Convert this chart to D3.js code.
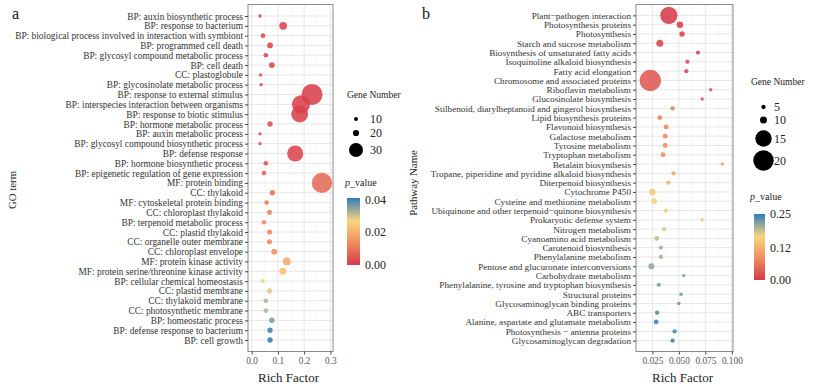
<!DOCTYPE html>
<html><head><meta charset="utf-8">
<script src="https://cdn.jsdelivr.net/npm/d3@7/dist/d3.min.js"></script>
<style>body{margin:0;background:#fff}svg{display:block}</style>
</head><body><svg id="c" width="830" height="392"></svg>
<script>
// ---------- Panel a : GO terms ----------
const goTerms = [
  "BP: auxin biosynthetic process","BP: response to bacterium","BP: biological process involved in interaction with symbiont",
  "BP: programmed cell death","BP: glycosyl compound metabolic process","BP: cell death","CC: plastoglobule",
  "BP: glycosinolate metabolic process","BP: response to external stimulus","BP: interspecies interaction between organisms",
  "BP: response to biotic stimulus","BP: hormone metabolic process","BP: auxin metabolic process",
  "BP: glycosyl compound biosynthetic process","BP: defense response","BP: hormone biosynthetic process",
  "BP: epigenetic regulation of gene expression","MF: protein binding","CC: thylakoid","MF: cytoskeletal protein binding",
  "CC: chloroplast thylakoid","BP: terpenoid metabolic process","CC: plastid thylakoid","CC: organelle outer membrane",
  "CC: chloroplast envelope","MF: protein kinase activity","MF: protein serine/threonine kinase activity",
  "BP: cellular chemical homeostasis","CC: plastid membrane","CC: thylakoid membrane","CC: photosynthetic membrane",
  "BP: homeostatic process","BP: defense response to bacterium","BP: cell growth"
];
const goRich = [0.032,0.120,0.043,0.070,0.054,0.077,0.034,0.036,0.230,0.188,0.183,0.070,0.032,0.032,0.166,0.054,0.047,
  0.268,0.079,0.057,0.068,0.047,0.068,0.068,0.086,0.134,0.119,0.042,0.068,0.054,0.054,0.077,0.070,0.070];
const goCount = [8,22,13,18,13,18,8,8,40,36,34,16,8,8,33,13,13,39,16,13,15,12,15,15,18,22,21,10,15,13,13,17,16,16];
const goP = [0.001,0.002,0.002,0.002,0.002,0.002,0.002,0.002,0.001,0.001,0.001,0.003,0.003,0.003,0.002,0.004,0.006,
  0.008,0.009,0.011,0.012,0.012,0.013,0.013,0.014,0.019,0.023,0.026,0.029,0.032,0.032,0.036,0.040,0.041];
const goXTicks = [0, 0.1, 0.2, 0.3];
const goSizeBreaks = [10, 20, 30];
const goPBreaks = [0, 0.02, 0.04];

// ---------- Panel b : KEGG pathways ----------
const pwNames = [
  "Plant\u2212pathogen interaction","Photosynthesis proteins","Photosynthesis","Starch and sucrose metabolism",
  "Biosynthesis of unsaturated fatty acids","Isoquinoline alkaloid biosynthesis","Fatty acid elongation",
  "Chromosome and associated proteins","Riboflavin metabolism","Glucosinolate biosynthesis",
  "Stilbenoid, diarylheptanoid and gingerol biosynthesis","Lipid biosynthesis proteins","Flavonoid biosynthesis",
  "Galactose metabolism","Tyrosine metabolism","Tryptophan metabolism","Betalain biosynthesis",
  "Tropane, piperidine and pyridine alkaloid biosynthesis","Diterpenoid biosynthesis","Cytochrome P450",
  "Cysteine and methionine metabolism","Ubiquinone and other terpenoid\u2212quinone biosynthesis","Prokaryotic defense system",
  "Nitrogen metabolism","Cyanoamino acid metabolism","Carotenoid biosynthesis","Phenylalanine metabolism",
  "Pentose and glucuronate interconversions","Carbohydrate metabolism","Phenylalanine, tyrosine and tryptophan biosynthesis",
  "Structural proteins","Glycosaminoglycan binding proteins","ABC transporters","Alanine, aspartate and glutamate metabolism",
  "Photosynthesis \u2212 antenna proteins","Glycosaminoglycan degradation"
];
const pwRich = [0.0405,0.051,0.053,0.032,0.068,0.058,0.057,0.023,0.080,0.072,0.044,0.032,0.038,0.037,0.037,0.035,0.091,
  0.045,0.040,0.025,0.0266,0.0376,0.072,0.036,0.029,0.033,0.033,0.024,0.0546,0.031,0.052,0.050,0.0294,0.0285,0.046,0.044];
const pwCount = [16,9,7,10,5,5,5,21,4,4,5,6,6,6,6,6,4,5,5,9,8,5,4,5,6,5,5,8,4,5,4,4,5,6,5,5];
const pwP = [0.001,0.003,0.005,0.008,0.012,0.015,0.018,0.030,0.025,0.030,0.060,0.068,0.074,0.076,0.078,0.082,0.100,
  0.110,0.128,0.150,0.160,0.172,0.176,0.180,0.190,0.198,0.200,0.210,0.214,0.218,0.224,0.228,0.238,0.240,0.244,0.248];
const pwXTicks = [0.025, 0.05, 0.075, 0.1];
const pwSizeBreaks = [5, 10, 15, 20];
const pwPBreaks = [0, 0.12, 0.25];

// colour gradient used by both panels (low p = red, high p = blue)
const gradStops = [0, 0.33, 0.66, 1];
const gradColors = ["#d73a4a", "#ef8c5e", "#f8d67c", "#2f7dbb"];

const FONT = '"Liberation Serif","Times New Roman",Times,serif';
const svg = d3.select('#c').style('font-family', FONT);
svg.append('rect').attr('width', 830).attr('height', 392).attr('fill', '#fff');

function panel(o) {
  const g = svg.append('g');
  const x = d3.scaleLinear().domain(o.xDomain).range([o.left, o.right]);
  const y = d3.scalePoint().domain(o.names).range([o.top, o.bottom]).padding(1.17);
  const color = d3.scaleLinear().domain(gradStops.map(s => s * o.pMax)).range(gradColors).interpolate(d3.interpolateRgb);
  const size = d3.scaleLinear().domain(o.sizeDomain).range(o.sizeRange);

  g.append('rect').attr('x', o.left).attr('y', o.top).attr('width', o.right - o.left).attr('height', o.bottom - o.top)
    .attr('fill', '#fff');
  // grid
  const step = o.xTicks[1] - o.xTicks[0];
  const minors = [o.xTicks[0] - step / 2, ...o.xTicks.map(t => t + step / 2)]
    .filter(v => v > o.xDomain[0] && v < o.xDomain[1]);
  g.selectAll('.mn').data(minors).join('line').attr('x1', d => x(d)).attr('x2', d => x(d))
    .attr('y1', o.top).attr('y2', o.bottom).attr('stroke', '#f2f2f2').attr('stroke-width', 0.6);
  g.selectAll('.mj').data(o.xTicks).join('line').attr('x1', d => x(d)).attr('x2', d => x(d))
    .attr('y1', o.top).attr('y2', o.bottom).attr('stroke', '#e6e6e6').attr('stroke-width', 1);
  g.selectAll('.hy').data(o.names).join('line').attr('x1', o.left).attr('x2', o.right)
    .attr('y1', d => y(d)).attr('y2', d => y(d)).attr('stroke', '#e6e6e6').attr('stroke-width', 1);

  // points
  const pts = o.names.map((n, i) => ({ n, r: o.rich[i], c: o.count[i], p: o.p[i] }));
  g.selectAll('circle.pt').data(pts).join('circle').attr('class', 'pt')
    .attr('cx', d => x(d.r)).attr('cy', d => y(d.n)).attr('r', d => size(d.c) / 2)
    .attr('fill', d => color(d.p)).attr('fill-opacity', 0.88);

  // border
  g.append('rect').attr('x', o.left).attr('y', o.top).attr('width', o.right - o.left).attr('height', o.bottom - o.top)
    .attr('fill', 'none').attr('stroke', '#8a8a8a').attr('stroke-width', 1);

  // axes
  const ax = g.append('g').attr('transform', `translate(0,${o.bottom})`)
    .call(d3.axisBottom(x).tickValues(o.xTicks).tickFormat(o.xFmt).tickSize(3).tickPadding(3));
  ax.select('.domain').remove();
  ax.selectAll('line').attr('stroke', '#444');
  ax.selectAll('text').attr('font-size', 9.3).attr('fill', '#555').style('font-family', FONT);
  const ay = g.append('g').attr('transform', `translate(${o.left},0)`)
    .call(d3.axisLeft(y).tickSize(3).tickPadding(2));
  ay.select('.domain').remove();
  ay.selectAll('line').attr('stroke', '#444');
  ay.selectAll('text').attr('font-size', o.yFont).attr('fill', '#333').style('font-family', FONT);

  // titles
  g.append('text').attr('x', (o.left + o.right) / 2 - 2).attr('y', 382).attr('text-anchor', 'middle')
    .attr('font-size', 13).attr('fill', '#222').text('Rich Factor');
  g.append('text').attr('transform', `translate(${o.yTitleX},${o.yTitleY}) rotate(-90)`).attr('text-anchor', 'middle')
    .attr('font-size', 10.8).attr('fill', '#222').text(o.yTitle);
  g.append('text').attr('x', o.letterX).attr('y', 19).attr('font-size', 16).attr('fill', '#111').text(o.letter);

  // size legend
  const L = o.legend;
  g.append('text').attr('x', L.titleX).attr('y', L.titleY).attr('font-size', 9.5).attr('fill', '#222').text('Gene Number');
  o.sizeBreaks.forEach((b, i) => {
    g.append('circle').attr('cx', L.cx).attr('cy', L.cys[i]).attr('r', size(b) / 2).attr('fill', '#000');
    g.append('text').attr('x', L.lx).attr('y', L.cys[i] + 4).attr('font-size', 12).attr('fill', '#222').text(b);
  });
  // colour legend
  const pt = g.append('text').attr('x', L.pTitleX).attr('y', L.pTitleY).attr('font-size', 10).attr('fill', '#222');
  pt.append('tspan').attr('font-style', 'italic').text('p');
  pt.append('tspan').text('_value');
  const gid = 'grad' + o.letter;
  const grad = svg.append('defs').append('linearGradient').attr('id', gid)
    .attr('x1', 0).attr('y1', 1).attr('x2', 0).attr('y2', 0);
  d3.range(0, 1.0001, 0.05).forEach(t => grad.append('stop').attr('offset', t).attr('stop-color', color(t * o.pMax)));
  const cb = d3.scaleLinear().domain([0, o.pMax]).range([L.barBottom, L.barTop]);
  g.append('rect').attr('x', L.barX).attr('y', L.barTop).attr('width', L.barW).attr('height', L.barBottom - L.barTop)
    .attr('fill', `url(#${gid})`);
  o.pBreaks.forEach(b => {
    g.append('text').attr('x', L.barX + L.barW + 5).attr('y', cb(b) + 4).attr('font-size', 12).attr('fill', '#222')
      .text(d3.format('.2f')(b));
  });
}

panel({
  letter: 'a', letterX: 12, names: goTerms, rich: goRich, count: goCount, p: goP, yFont: 9.4,
  left: 248, right: 333, top: 4.5, bottom: 351.5, xDomain: [-0.014, 0.31], xTicks: goXTicks, xFmt: d3.format('.1f'),
  sizeDomain: [8, 10, 20, 30, 40], sizeRange: [3.3, 4, 6.2, 14, 21], pMax: 0.041,
  sizeBreaks: goSizeBreaks, pBreaks: goPBreaks, yTitle: 'GO term', yTitleX: 16, yTitleY: 190,
  legend: { titleX: 347, titleY: 98, cx: 356, cys: [119, 133, 150], lx: 370,
            pTitleX: 345, pTitleY: 186, barX: 347, barW: 13, barTop: 198, barBottom: 265 }
});
panel({
  letter: 'b', letterX: 422, names: pwNames, rich: pwRich, count: pwCount, p: pwP, yFont: 9.2,
  left: 636, right: 733, top: 4.5, bottom: 351.5, xDomain: [0.0095, 0.1011], xTicks: pwXTicks, xFmt: d3.format('.3f'),
  sizeDomain: [4, 5, 10, 15, 20], sizeRange: [3.5, 4.3, 7, 16.5, 20.5], pMax: 0.25,
  sizeBreaks: pwSizeBreaks, pBreaks: pwPBreaks, yTitle: 'Pathway Name', yTitleX: 417, yTitleY: 183,
  legend: { titleX: 751, titleY: 85, cx: 763.5, cys: [107, 120, 138.5, 160.5], lx: 774,
            pTitleX: 750, pTitleY: 200, barX: 754, barW: 11, barTop: 214, barBottom: 280 }
});
</script>
</body></html>
